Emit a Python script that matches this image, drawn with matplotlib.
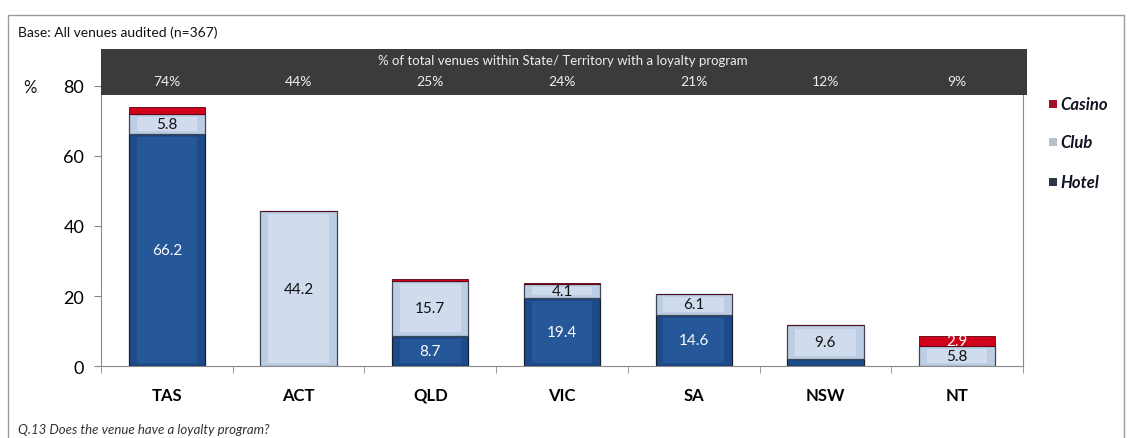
import numpy as np
import matplotlib
matplotlib.use("Agg")
import matplotlib.pyplot as plt
from matplotlib.patches import Rectangle

plt.rcParams['font.family'] = ['Lato', 'DejaVu Sans']

states = ["TAS", "ACT", "QLD", "VIC", "SA", "NSW", "NT"]
hotel = [66.2, 0, 8.7, 19.4, 14.6, 2.0, 0]
club = [5.8, 44.2, 15.7, 4.1, 6.1, 9.6, 5.8]
casino = [2.0, 0, 0.4, 0.3, 0, 0, 2.9]
loyalty_pct = ["74%", "44%", "25%", "24%", "21%", "12%", "9%"]

W, H = 1128, 439
fig = plt.figure(figsize=(W / 100, H / 100), dpi=100)

def fx(px):
    return px / W

def fy(py):
    return 1 - py / H

# outer frame
fig.patches.append(Rectangle((fx(8), fy(470)), fx(1124) - fx(8), fy(16) - fy(470),
                             transform=fig.transFigure, fill=False,
                             edgecolor="#9a9a9a", linewidth=1.0))

ax = fig.add_axes([fx(101), fy(367), fx(1023) - fx(101), fy(87) - fy(367)])

x = np.arange(len(states))
width = 0.58
hotel_c = "#1d4a88"
club_c = "#bccde4"
casino_c = "#d0021b"
edge = "#15202e"

b1 = ax.bar(x, hotel, width, color=hotel_c, edgecolor=edge, linewidth=0.9, zorder=3)
b2 = ax.bar(x, club, width, bottom=hotel, color=club_c, edgecolor="#3c4654",
            linewidth=0.9, zorder=3)
bottom2 = [h + c for h, c in zip(hotel, club)]
b3 = ax.bar(x, casino, width, bottom=bottom2, color=casino_c, edgecolor="#5a0010",
            linewidth=0.6, zorder=3)

# inner highlight for a bit of bevel look
for bars, hi in ((b1, "#2d62a8"), (b2, "#e2eaf5")):
    for r in bars:
        if r.get_height() > 3:
            ax.add_patch(Rectangle((r.get_x() + 0.06, r.get_y() + 0.9),
                                   r.get_width() - 0.12, r.get_height() - 1.8,
                                   facecolor=hi, edgecolor="none", zorder=3.5, alpha=0.55))

# value labels
for i in range(len(states)):
    if hotel[i] > 2.5:
        ax.text(x[i], hotel[i] / 2, f"{hotel[i]:.1f}", ha="center", va="center",
                color="white", fontsize=11, zorder=5)
    if club[i] > 2.5:
        ax.text(x[i], hotel[i] + club[i] / 2, f"{club[i]:.1f}", ha="center", va="center",
                color="#111111", fontsize=11, zorder=5)
    if casino[i] > 2.5:
        ax.text(x[i], bottom2[i] + casino[i] / 2, f"{casino[i]:.1f}", ha="center",
                va="center", color="white", fontsize=11, zorder=5)

ax.set_xlim(-0.5, len(states) - 0.5)
ax.set_ylim(0, 80)
ax.set_yticks([0, 20, 40, 60, 80])
ax.tick_params(axis="y", labelsize=13, length=5, pad=7, color="#888888")
ax.set_xticks(x)
ax.set_xticklabels(states, fontsize=12, fontweight="bold")
ax.tick_params(axis="x", which="major", length=0, pad=15)
ax.set_xticks(np.arange(-0.5, len(states)), minor=True)
ax.tick_params(axis="x", which="minor", length=5, color="#888888")
for s in ("left", "bottom", "right"):
    ax.spines[s].set_color("#8a8a8a")
ax.spines["top"].set_visible(False)

# header band
fig.patches.append(Rectangle((fx(101), fy(96)), fx(1027) - fx(101), fy(50) - fy(96),
                             transform=fig.transFigure, facecolor="#3b3b3b",
                             edgecolor="none", zorder=10))
fig.text(fx(563), fy(61), "% of total venues within State/ Territory with a loyalty program",
         ha="center", va="center", color="#eeeeee", fontsize=9.5, zorder=11)
for i, p in enumerate(loyalty_pct):
    px = 101 + (i + 0.5) * (1023 - 101) / len(states)
    fig.text(fx(px), fy(82), p, ha="center", va="center", color="#eeeeee",
             fontsize=10, zorder=11)

fig.text(fx(18), fy(33), "Base: All venues audited (n=367)", ha="left", va="center",
         fontsize=10, color="#111111")
fig.text(fx(30), fy(88), "%", ha="center", va="center", fontsize=12, color="#111111")
fig.text(fx(18), fy(430), "Q.13 Does the venue have a loyalty program?", ha="left",
         va="center", fontsize=9.5, style="italic", color="#333333")

# legend
leg_items = [("Casino", "#a0102e", 105), ("Club", "#b8bfc8", 143), ("Hotel", "#2a3a4a", 183)]
for label, col, py in leg_items:
    fig.patches.append(Rectangle((fx(1049), fy(py + 4)), fx(8), fy(0) - fy(8),
                                 transform=fig.transFigure, facecolor=col,
                                 edgecolor="none"))
    fig.text(fx(1060), fy(py), label, ha="left", va="center", fontsize=12,
             style="italic", fontweight="bold", color="#111122")

fig.savefig("out.png", dpi=100)
